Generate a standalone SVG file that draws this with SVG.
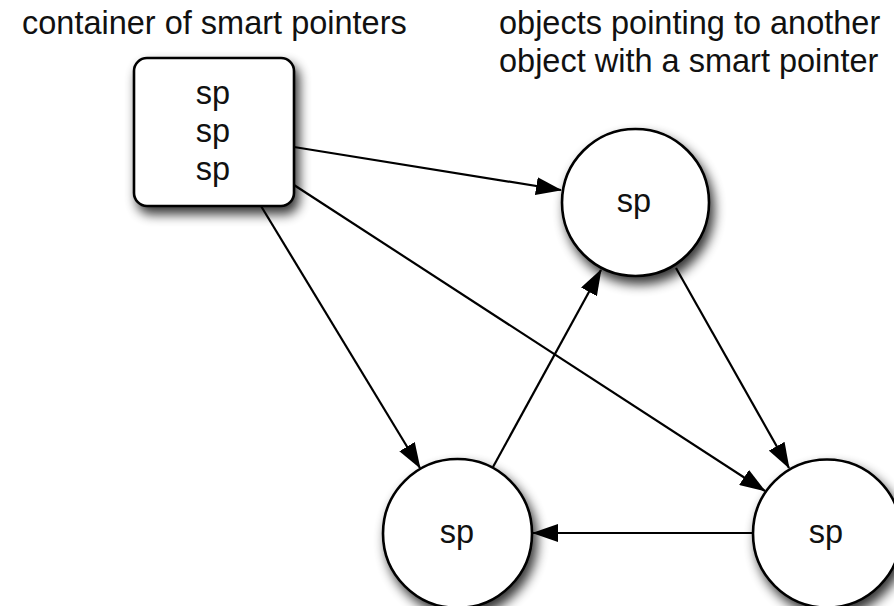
<svg xmlns="http://www.w3.org/2000/svg" width="894" height="606" viewBox="0 0 894 606">
<style>
  text { font-family: "Liberation Sans", Arial, sans-serif; font-size: 32.5px; fill: #111; }
  .node { fill: #fff; stroke: #000; stroke-width: 2.6; filter: url(#shadow); }
  .conn { stroke: #000; stroke-width: 2.2; fill: none; marker-end: url(#arrow); }
  .c { text-anchor: middle; }
</style>
<defs>
  <filter id="shadow" x="-30%" y="-30%" width="170%" height="170%">
    <feGaussianBlur in="SourceAlpha" stdDeviation="6"/>
    <feOffset dx="4" dy="7" result="b"/>
    <feComponentTransfer><feFuncA type="linear" slope="0.8"/></feComponentTransfer>
    <feMerge><feMergeNode/><feMergeNode in="SourceGraphic"/></feMerge>
  </filter>
  <marker id="arrow" viewBox="0 0 26 18" refX="25" refY="9" markerWidth="26" markerHeight="18" markerUnits="userSpaceOnUse" orient="auto">
    <path d="M0,0 L26,9 L0,18 z" fill="#000"/>
  </marker>
</defs>
<g id="labels">
  <text x="22" y="34">container of smart pointers</text>
  <text x="499" y="34">objects pointing to another</text>
  <text x="499" y="72">object with a smart pointer</text>
</g>
<g id="container">
  <rect class="node" x="134" y="58" width="160" height="148" rx="13"/>
  <text class="c" x="213" y="104">sp</text>
  <text class="c" x="213" y="142">sp</text>
  <text class="c" x="213" y="180">sp</text>
</g>
<g id="obj-top">
  <circle class="node" cx="635.5" cy="202.5" r="73.5"/>
  <text class="c" x="634" y="212">sp</text>
</g>
<g id="obj-left">
  <circle class="node" cx="457.5" cy="533.5" r="74.5"/>
  <text class="c" x="457" y="543">sp</text>
</g>
<g id="obj-right">
  <circle class="node" cx="827" cy="533.5" r="74"/>
  <text class="c" x="826" y="543">sp</text>
</g>
<g id="connectors">
  <line class="conn" x1="294" y1="147" x2="561" y2="190"/>
  <line class="conn" x1="294" y1="185" x2="765" y2="491"/>
  <line class="conn" x1="261" y1="206" x2="420" y2="468"/>
  <line class="conn" x1="493" y1="467" x2="601" y2="270"/>
  <line class="conn" x1="676" y1="268" x2="789" y2="468"/>
  <line class="conn" x1="753" y1="533" x2="533" y2="533"/>
</g>
</svg>
